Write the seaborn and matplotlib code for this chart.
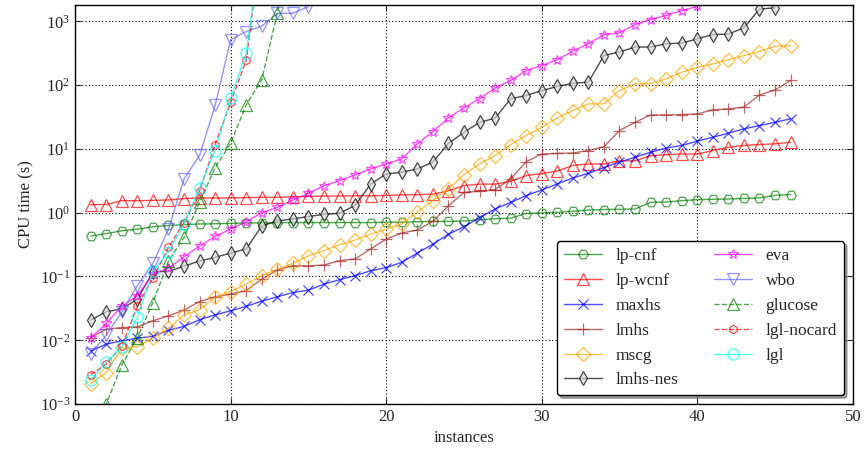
import matplotlib
matplotlib.use('Agg')
import matplotlib.pyplot as plt
import seaborn as sns
import numpy as np
from matplotlib.ticker import NullLocator

# cactus plot data: CPU time (s) per solved instance, sorted
lp_cnf = [0.43, 0.47, 0.52, 0.55, 0.60, 0.63, 0.65, 0.665, 0.67, 0.68,
          0.69, 0.69, 0.70, 0.70, 0.70, 0.70, 0.70, 0.70, 0.70, 0.71,
          0.71, 0.72, 0.73, 0.73, 0.74, 0.78, 0.80, 0.82, 0.97, 0.99,
          1.01, 1.05, 1.10, 1.12, 1.13, 1.14, 1.45, 1.47, 1.54, 1.60,
          1.62, 1.64, 1.67, 1.70, 1.87, 1.92]
lp_wcnf = [1.34, 1.34, 1.54, 1.54, 1.56, 1.58, 1.66, 1.70, 1.70, 1.70,
           1.72, 1.74, 1.74, 1.78, 1.80, 1.82, 1.82, 1.84, 1.84, 1.86,
           1.90, 1.92, 1.95, 2.2, 2.65, 2.8, 2.8, 3.1, 3.8, 4.1,
           4.5, 5.5, 5.8, 5.8, 6.5, 6.5, 7.8, 8.1, 8.3, 8.3,
           9.4, 10.6, 11.3, 11.7, 12.0, 12.7]
maxhs = [0.0068, 0.0087, 0.0098, 0.0108, 0.0115, 0.0143, 0.0165, 0.021, 0.025, 0.029,
         0.034, 0.041, 0.048, 0.056, 0.061, 0.076, 0.089, 0.103, 0.123, 0.138,
         0.166, 0.233, 0.32, 0.46, 0.60, 0.84, 1.14, 1.45, 1.85, 2.27,
         2.82, 3.5, 4.14, 5.1, 6.2, 7.4, 8.85, 10.3, 11.3, 13.2,
         15.2, 17.6, 20.6, 23.2, 26.1, 29.6]
lmhs = [0.011, 0.0149, 0.0158, 0.0162, 0.0202, 0.0242, 0.0296, 0.0405, 0.048, 0.053,
        0.060, 0.091, 0.126, 0.147, 0.147, 0.151, 0.177, 0.188, 0.27, 0.386,
        0.48, 0.535, 0.73, 1.28, 2.08, 2.16, 2.3, 3.38, 6.3, 8.3,
        8.5, 8.6, 9.4, 10.8, 19.4, 26, 34, 34, 34.5, 35.3,
        41, 42.4, 45, 70, 84, 118]
mscg = [0.0021, 0.0031, 0.0075, 0.0079, 0.0108, 0.0154, 0.025, 0.030, 0.047, 0.058,
        0.076, 0.103, 0.13, 0.16, 0.211, 0.254, 0.314, 0.373, 0.46, 0.555,
        0.665, 1.03, 1.55, 2.35, 3.95, 5.8, 7.85, 11.7, 16.2, 21.8,
        30.6, 39.8, 50.7, 50.7, 82, 105, 105, 125, 159, 190,
        215, 250, 290, 335, 405, 412]
lmhs_nes = [0.0207, 0.028, 0.031, 0.044, 0.118, 0.12, 0.145, 0.175, 0.199, 0.233,
            0.27, 0.62, 0.74, 0.80, 0.87, 0.94, 0.98, 1.3, 2.8, 4.05,
            4.3, 4.85, 6.2, 12.2, 18.2, 26, 30.3, 61, 68.5, 82,
            95, 107, 111, 290, 330, 395, 395, 445, 455, 530,
            620, 630, 790, 1550, 1630]
eva = [0.0108, 0.0185, 0.034, 0.05, 0.11, 0.135, 0.204, 0.30, 0.425, 0.555,
       0.72, 1.0, 1.21, 1.58, 2.0, 2.65, 3.18, 3.9, 4.85, 5.8,
       6.95, 12, 18.6, 30.6, 44, 61, 90, 118, 169, 202,
       250, 340, 445, 615, 660, 890, 1060, 1240, 1470, 1710]
wbo = [0.0062, 0.012, 0.028, 0.072, 0.16, 0.55, 3.4, 7.9, 48, 515,
       690, 840, 1330, 1340, 1700]
glucose = [0.0002, 0.001, 0.0041, 0.011, 0.039, 0.175, 0.41, 1.45, 5.1, 12.2,
           49, 122, 1350, 30000]
lgl_nocard = [0.0029, 0.0042, 0.0082, 0.034, 0.095, 0.285, 0.70, 2.2, 11.7, 54,
              245, 20000]
lgl = [0.0024, 0.0045, 0.0079, 0.0228, 0.12, 0.245, 0.665, 2.44, 9.4, 62,
       318, 20000]

names = ['lp-cnf', 'lp-wcnf', 'maxhs', 'lmhs', 'mscg', 'lmhs-nes',
         'eva', 'wbo', 'glucose', 'lgl-nocard', 'lgl']
series = [lp_cnf, lp_wcnf, maxhs, lmhs, mscg, lmhs_nes,
          eva, wbo, glucose, lgl_nocard, lgl]

# color, marker, linestyle, marker size, marker face
styles = [
    ('green', 'H', '-', 7, 'none'),
    ('red', '^', '-', 8, 'none'),
    ('blue', 'x', '-', 7, 'none'),
    ('brown', '+', '-', 8, 'none'),
    ('orange', 'D', '-', 7, 'none'),
    ('black', 'd', '-', 7, '0.85'),
    ('magenta', '*', '-', 7, 'none'),
    ('#6666ff', 'v', '-', 8, 'none'),
    ('green', '^', '--', 8, 'none'),
    ('red', 'h', '--', 6, 'none'),
    ('cyan', 'o', '-', 8, 'none'),
]

sns.set_style('ticks')
plt.rcParams['font.family'] = ['Liberation Serif', 'DejaVu Serif']
plt.rcParams['mathtext.fontset'] = 'stix'
plt.rcParams['font.size'] = 12

fig = plt.figure(figsize=(8.64, 4.54), dpi=100)
ax = fig.add_axes([0.087, 0.110, 0.900, 0.879])

for name, vals, (col, mk, ls, ms, mfc) in zip(names, series, styles):
    xs = np.arange(1, len(vals) + 1)
    sns.lineplot(x=xs, y=vals, ax=ax, color=col, marker=mk, linestyle=ls,
                 markersize=ms, markerfacecolor=mfc, markeredgecolor=col,
                 markeredgewidth=0.9, linewidth=1.0, alpha=0.7, label=name)

ax.set_yscale('log')
ax.set_xlim(0, 50)
ax.set_ylim(1e-3, 1800)
ax.yaxis.set_minor_locator(NullLocator())
ax.set_xticks([0, 10, 20, 30, 40, 50])
ax.grid(True, which='major', color='k', linestyle=(0, (1, 2)), linewidth=0.8)
ax.tick_params(direction='in', top=True, right=True, length=4, labelsize=12)
for sp in ax.spines.values():
    sp.set_color('black')
    sp.set_linewidth(1.0)

ax.set_xlabel('instances', fontsize=12)
ax.set_ylabel('CPU time (s)', fontsize=12)

leg = ax.legend(ncol=2, loc='lower right', fontsize=12.5, fancybox=True,
                shadow=True, framealpha=1, numpoints=1, handlelength=2.2,
                labelspacing=0.5, columnspacing=2.0, borderpad=0.4)
leg.get_frame().set_edgecolor('black')
leg.get_frame().set_linewidth(1.0)

fig.savefig('out.png', dpi=100)
